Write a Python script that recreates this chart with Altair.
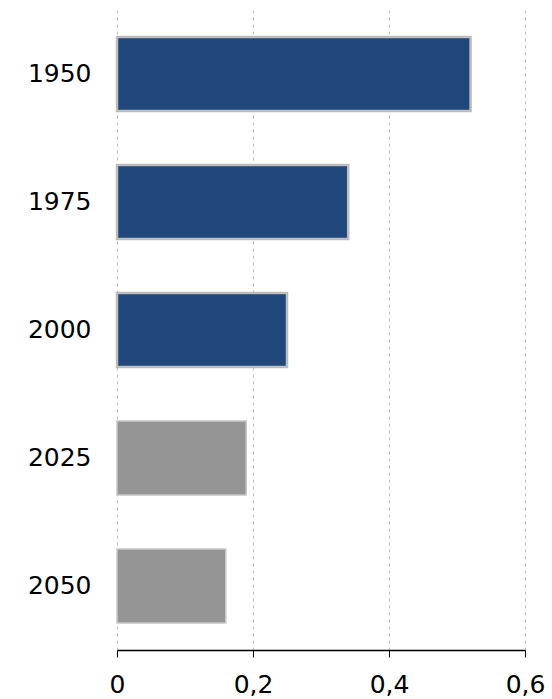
import altair as alt
import pandas as pd

years = ["1950", "1975", "2000", "2025", "2050"]
values = [0.52, 0.34, 0.25, 0.19, 0.16]
kinds = ["hist", "hist", "hist", "proj", "proj"]
fill_colors = ["#1F477B", "#1F477B", "#1F477B", "#959595", "#959595"]
stroke_colors = ["#BDBDBD", "#BDBDBD", "#BDBDBD", "#C8C8C8", "#C8C8C8"]
stroke_widths = [2.5, 2.5, 2.5, 1.5, 1.5]
x_ticks = [0, 0.2, 0.4, 0.6]

df = pd.DataFrame({"year": years, "value": values, "kind": kinds,
                   "fill": fill_colors, "stroke": stroke_colors, "sw": stroke_widths})

font = "DejaVu Sans"

chart = alt.Chart(df).mark_bar().encode(
    y=alt.Y("year:N", sort=years,
            scale=alt.Scale(paddingInner=0.42, paddingOuter=0.21),
            axis=alt.Axis(title=None, domain=False, ticks=False, labelPadding=26,
                          labelFont=font, labelFontSize=25, labelColor="#000000",
                          labelFontWeight="normal", grid=False)),
    x=alt.X("value:Q", scale=alt.Scale(domain=[0, 0.6], nice=False),
            axis=alt.Axis(title=None, values=x_ticks,
                          labelExpr="replace(format(datum.value, '.1~f'), '.', ',')",
                          labelFont=font, labelFontSize=25, labelColor="#000000",
                          labelFontWeight="normal",
                          labelPadding=15, tickSize=7, tickColor="#000000",
                          domainColor="#000000", domainWidth=1.5,
                          grid=True, gridDash=[3, 4], gridColor="#BBBBBB",
                          gridWidth=1)),
    fill=alt.Fill("fill:N", scale=None),
    stroke=alt.Stroke("stroke:N", scale=None),
    strokeWidth=alt.StrokeWidth("sw:Q", scale=None),
).properties(
    width=408, height=640,
    autosize=alt.AutoSizeParams(type="none"),
    padding={"left": 117, "top": 10, "right": 27, "bottom": 49},
).configure_view(stroke=None).configure_axisX(labelFlush=False)

chart.save("out.html", embed_options={"renderer": "svg", "actions": False})
